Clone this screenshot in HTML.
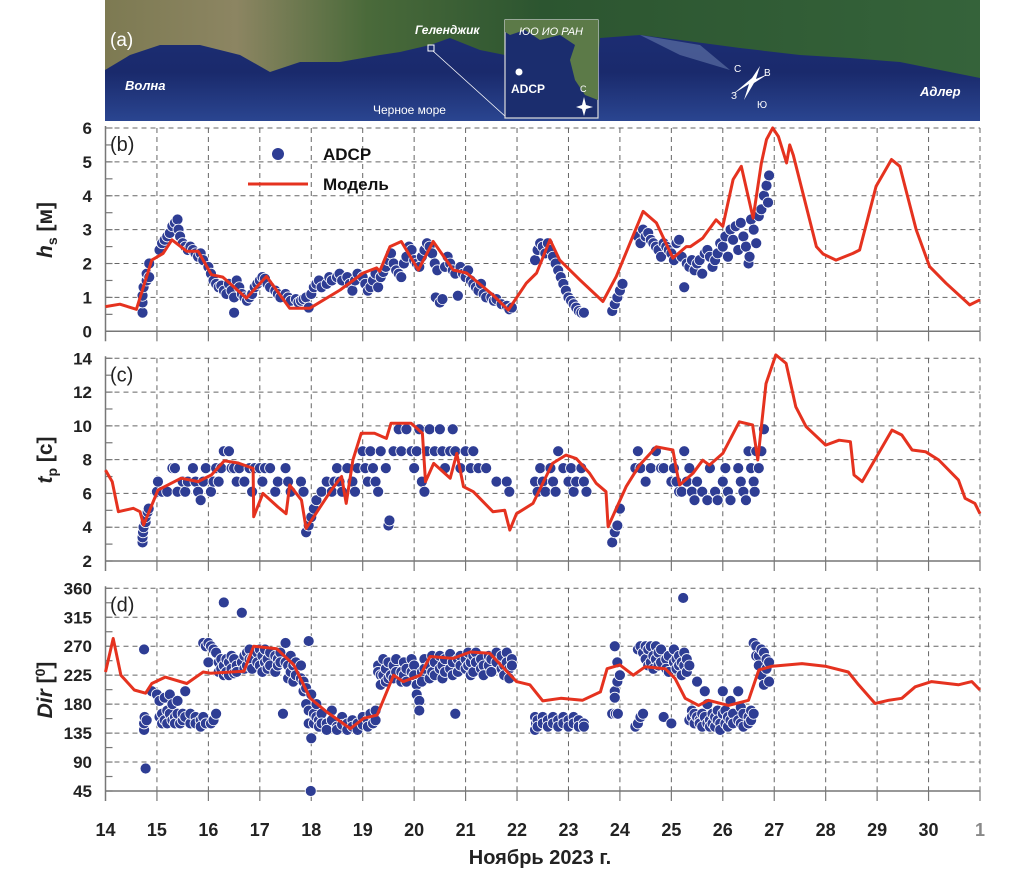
<!DOCTYPE html>
<html><head><meta charset="utf-8">
<style>
html,body{margin:0;padding:0;background:#fff;}
body{width:1010px;height:887px;overflow:hidden;font-family:"Liberation Sans",sans-serif;}
svg text{font-family:"Liberation Sans","DejaVu Sans",sans-serif;}
</style></head>
<body>
<svg id="chart" width="1010" height="887" viewBox="0 0 1010 887" xmlns="http://www.w3.org/2000/svg">
<defs>
<linearGradient id="sea" x1="0" y1="0" x2="0" y2="1">
<stop offset="0" stop-color="#1e2f78"/><stop offset="0.6" stop-color="#1a2a6c"/><stop offset="1" stop-color="#2a4590"/>
</linearGradient>
<linearGradient id="land" x1="0" y1="0" x2="1" y2="0">
<stop offset="0" stop-color="#7d7a52"/><stop offset="0.15" stop-color="#8c8562"/><stop offset="0.3" stop-color="#4a6a3a"/><stop offset="0.5" stop-color="#2c5530"/><stop offset="1" stop-color="#35633a"/>
</linearGradient>
</defs>
<g id="map">
<rect x="105" y="0" width="875" height="121" fill="url(#sea)"/>
<path fill="url(#land)" d="M105,0 L980,0 L980,78 L950,72 L900,62 L850,58 L800,55 L740,48 L680,40 L640,35 L600,38 L598,60 L560,55 L520,52 L505,55 L480,50 L450,38 L430,45 L400,52 L380,55 L340,62 L300,62 L270,72 L240,55 L200,45 L160,45 L130,55 L105,70 Z"/>
<path d="M640,35 L700,45 L730,70 L680,55 Z" fill="#8aa0c8" opacity="0.4"/>
<rect x="428" y="45" width="6" height="6" fill="none" stroke="#fff" stroke-width="1"/>
<line x1="433" y1="51" x2="506" y2="117" stroke="#fff" stroke-width="0.8"/>
<g>
<rect x="505" y="20" width="93" height="98" fill="#1b2d6e" stroke="#ddd" stroke-width="1.2"/>
<path d="M505,20 L598,20 L598,100 L585,95 L575,80 L570,60 L575,45 L560,35 L540,40 L525,30 L510,35 L505,32 Z" fill="#5c7a48"/>
<text x="551" y="35" fill="#fff" font-size="11" text-anchor="middle" font-style="italic">ЮО ИО РАН</text>
<circle cx="519" cy="72" r="3.5" fill="#fff"/>
<text x="511" y="93" fill="#fff" font-size="12" font-weight="bold">ADCP</text>
<text x="580" y="92" fill="#fff" font-size="9">С</text>
<path d="M584,97 L586,105 L593,107 L586,109 L584,116 L582,109 L576,107 L582,105 Z" fill="#fff"/>
</g>
<text x="110" y="46" fill="#fff" font-size="19" font-family="Liberation Serif,serif">(a)</text>
<text x="415" y="34" fill="#fff" font-size="12" font-style="italic" font-weight="bold">Геленджик</text>
<text x="125" y="90" fill="#fff" font-size="13" font-style="italic" font-weight="bold">Волна</text>
<text x="373" y="114" fill="#fff" font-size="12">Черное море</text>
<text x="920" y="96" fill="#fff" font-size="13" font-style="italic" font-weight="bold">Адлер</text>
<g fill="#fff">
<path d="M760,66 L752,78 L733,94 L749,84 L744,100 L754,83 L768,74 L756,79 Z"/>
<text x="734" y="72" font-size="10">С</text>
<text x="764" y="76" font-size="10">В</text>
<text x="731" y="99" font-size="10">З</text>
<text x="757" y="108" font-size="10">Ю</text>
</g>
</g>
<g id="plots"></g>
</svg>
<script>
// ---------- DATA ----------
const dayTicks = [14,15,16,17,18,19,20,21,22,23,24,25,26,27,28,29,30,31];
const dayTickLabels = ["14","15","16","17","18","19","20","21","22","23","24","25","26","27","28","29","30","1"];
const hsTicks = [0,1,2,3,4,5,6];
const tpTicks = [2,4,6,8,10,12,14];
const dirTicks = [45,90,135,180,225,270,315,360];

const modelHs = [[14.0,0.73],[14.28,0.8],[14.6,0.65],[14.9,2.1],[15.12,2.3],[15.29,2.7],[15.58,2.36],[15.8,2.36],[16.06,1.67],[16.28,1.6],[16.74,0.98],[17.13,1.62],[17.58,0.68],[17.97,0.68],[18.56,1.22],[19.01,1.72],[19.27,1.87],[19.33,1.77],[19.53,2.5],[19.75,2.65],[20.08,1.81],[20.37,2.65],[20.76,1.81],[21.02,1.72],[21.53,1.07],[21.83,0.63],[22.18,1.42],[22.38,1.72],[22.64,2.7],[22.83,2.1],[23.22,1.52],[23.67,0.88],[23.93,1.62],[24.45,3.54],[24.71,3.2],[25.03,2.16],[25.29,2.5],[25.37,2.5],[25.61,2.75],[25.87,3.29],[26.0,3.1],[26.2,4.48],[26.36,4.87],[26.59,3.34],[26.75,4.97],[26.85,5.66],[26.97,6.0],[27.08,5.75],[27.24,4.97],[27.3,5.5],[27.37,5.2],[27.82,2.5],[27.95,2.28],[28.2,2.1],[28.53,2.3],[28.66,2.4],[28.98,4.28],[29.28,5.07],[29.44,4.87],[29.76,3.0],[30.02,1.91],[30.34,1.42],[30.8,0.78],[31.0,0.93]];

const modelTp = [[14.0,7.38],[14.13,6.7],[14.19,5.8],[14.25,4.92],[14.54,5.12],[14.67,4.92],[14.74,4.13],[15.02,6.2],[15.47,6.9],[15.8,6.7],[16.06,7.1],[16.31,7.93],[16.58,7.8],[16.87,7.48],[16.88,4.62],[17.06,6.0],[17.35,5.2],[17.51,4.8],[17.58,6.5],[17.81,5.6],[17.9,3.93],[18.39,6.2],[18.59,7.0],[18.68,5.41],[18.81,7.98],[18.97,9.56],[19.23,9.56],[19.46,9.26],[19.55,10.15],[19.94,10.15],[20.16,9.56],[20.22,6.7],[20.38,7.78],[20.7,6.9],[20.83,8.37],[20.96,6.4],[21.15,6.1],[21.53,4.92],[21.76,5.0],[21.86,3.83],[21.99,4.8],[22.31,5.41],[22.69,7.78],[22.95,8.27],[23.15,8.07],[23.41,7.19],[23.54,6.6],[23.73,6.1],[23.77,4.03],[24.12,6.4],[24.38,7.68],[24.71,8.76],[25.03,8.57],[25.1,7.38],[25.16,6.5],[25.42,7.19],[25.61,7.97],[25.74,7.68],[26.0,8.37],[26.32,10.24],[26.58,10.05],[26.68,7.98],[26.84,12.5],[27.03,14.2],[27.23,13.7],[27.42,11.13],[27.62,9.95],[28.0,8.86],[28.26,9.15],[28.48,9.06],[28.55,7.09],[28.71,6.7],[29.29,9.75],[29.48,9.46],[29.68,8.57],[29.94,8.47],[30.2,7.98],[30.58,6.8],[30.71,5.71],[30.9,5.41],[31.0,4.8]];

const modelDir = [[14.0,230],[14.15,282],[14.3,225],[14.56,202],[14.78,197],[14.9,212],[15.16,222],[15.58,212],[15.9,230],[16.04,228],[16.69,231],[16.88,270],[17.33,266],[17.66,241],[17.98,189],[18.3,168],[18.76,142],[19.02,158],[19.28,163],[19.6,225],[19.79,215],[20.12,225],[20.31,254],[20.76,251],[21.09,261],[21.47,259],[21.99,215],[22.25,210],[22.5,185],[22.85,189],[23.27,186],[23.62,199],[23.75,235],[24.0,241],[24.26,225],[24.49,238],[24.88,235],[25.07,220],[25.27,189],[25.53,178],[25.72,186],[26.11,178],[26.5,186],[26.7,233],[26.96,239],[27.54,243],[27.99,239],[28.44,230],[28.64,210],[28.96,181],[29.22,186],[29.48,189],[29.74,207],[30.06,215],[30.58,210],[30.84,215],[31.0,202]];

const adcpHs = [[14.72,0.55],[14.72,0.85],[14.72,1.05],[14.74,1.3],[14.8,1.5],[14.8,1.7],[14.85,1.6],[14.85,2.0],[15.05,2.4],[15.1,2.6],[15.15,2.7],[15.2,2.8],[15.25,2.9],[15.3,3.1],[15.35,3.2],[15.4,3.3],[15.42,3.0],[15.45,2.8],[15.5,2.6],[15.55,2.5],[15.6,2.4],[15.65,2.5],[15.7,2.4],[15.75,2.3],[15.8,2.2],[15.85,2.3],[15.9,2.1],[16.0,1.9],[16.05,1.7],[16.1,1.5],[16.15,1.4],[16.2,1.3],[16.25,1.35],[16.3,1.2],[16.35,1.1],[16.4,1.4],[16.45,1.2],[16.5,1.0],[16.5,0.55],[16.55,1.5],[16.6,1.3],[16.65,1.1],[16.7,1.0],[16.75,0.9],[16.8,1.0],[16.85,1.1],[16.9,1.3],[16.95,1.4],[17.0,1.5],[17.05,1.6],[17.1,1.55],[17.15,1.4],[17.2,1.3],[17.3,1.2],[17.35,1.1],[17.4,1.0],[17.5,1.1],[17.55,1.0],[17.6,0.9],[17.7,0.95],[17.75,0.85],[17.8,0.9],[17.85,0.95],[17.9,1.0],[17.95,0.7],[18.0,1.1],[18.05,1.3],[18.1,1.4],[18.15,1.5],[18.2,1.3],[18.3,1.4],[18.35,1.6],[18.4,1.5],[18.5,1.6],[18.55,1.7],[18.6,1.5],[18.7,1.6],[18.75,1.4],[18.8,1.2],[18.85,1.5],[18.9,1.7],[19.0,1.6],[19.05,1.4],[19.1,1.2],[19.15,1.3],[19.2,1.5],[19.25,1.7],[19.3,1.3],[19.35,1.6],[19.4,1.75],[19.45,1.9],[19.5,2.1],[19.55,2.3],[19.6,2.0],[19.65,1.8],[19.7,1.7],[19.75,1.6],[19.8,2.0],[19.85,2.2],[19.9,2.5],[19.95,2.4],[20.0,2.1],[20.05,2.0],[20.1,1.9],[20.15,2.2],[20.2,2.4],[20.25,2.6],[20.3,2.5],[20.35,2.3],[20.4,2.0],[20.45,1.8],[20.42,1.0],[20.5,0.85],[20.55,0.95],[20.6,1.9],[20.65,2.2],[20.7,2.0],[20.75,1.8],[20.8,1.7],[20.85,1.05],[20.9,1.9],[20.95,1.7],[21.0,1.6],[21.05,1.8],[21.1,1.5],[21.15,1.4],[21.2,1.3],[21.25,1.2],[21.3,1.4],[21.35,1.1],[21.4,1.0],[21.5,1.0],[21.55,0.9],[21.6,0.95],[21.7,0.8],[21.8,0.75],[21.85,0.65],[21.9,0.7],[22.35,2.1],[22.4,2.4],[22.45,2.6],[22.5,2.5],[22.55,2.3],[22.6,2.6],[22.65,2.4],[22.7,2.2],[22.75,2.0],[22.8,1.8],[22.85,1.6],[22.9,1.4],[22.95,1.2],[23.0,1.0],[23.05,0.9],[23.1,0.8],[23.15,0.7],[23.2,0.6],[23.25,0.55],[23.3,0.55],[23.85,0.6],[23.9,0.8],[23.95,1.0],[24.0,1.2],[24.05,1.4],[24.35,2.8],[24.4,2.6],[24.45,3.0],[24.5,2.8],[24.55,2.9],[24.6,2.7],[24.65,2.6],[24.7,2.5],[24.75,2.4],[24.8,2.2],[24.85,2.6],[24.9,2.5],[24.95,2.4],[25.0,2.3],[25.05,2.1],[25.1,2.6],[25.15,2.7],[25.2,2.2],[25.25,1.3],[25.3,2.0],[25.35,1.9],[25.4,2.1],[25.45,1.8],[25.5,2.0],[25.55,2.1],[25.6,1.7],[25.65,2.3],[25.7,2.4],[25.75,2.2],[25.8,1.9],[25.85,2.1],[25.9,2.3],[25.95,2.6],[26.0,2.5],[26.05,2.8],[26.1,2.2],[26.15,3.0],[26.2,2.7],[26.25,3.1],[26.3,2.4],[26.35,3.2],[26.4,2.8],[26.45,2.5],[26.5,2.0],[26.52,2.2],[26.55,3.3],[26.6,3.0],[26.65,2.6],[26.7,3.4],[26.75,3.6],[26.8,4.0],[26.85,4.3],[26.9,4.6],[26.88,3.8]];

const adcpTp = [[14.72,3.1],[14.72,3.4],[14.73,3.7],[14.74,4.0],[14.78,4.3],[14.78,4.6],[14.82,4.9],[14.84,5.1],[15.0,6.1],[15.02,6.7],[15.1,6.1],[15.2,6.1],[15.3,7.5],[15.35,7.5],[15.4,6.1],[15.5,6.7],[15.55,6.1],[15.6,6.7],[15.7,7.5],[15.75,6.7],[15.8,6.1],[15.85,5.6],[15.9,6.7],[15.95,7.5],[16.05,6.1],[16.1,6.7],[16.15,7.5],[16.2,6.7],[16.25,7.5],[16.3,8.5],[16.4,8.5],[16.45,7.5],[16.5,7.5],[16.55,6.7],[16.6,7.5],[16.7,6.7],[16.8,7.5],[16.85,6.1],[16.9,7.5],[17.0,7.5],[17.05,6.7],[17.1,7.5],[17.2,7.5],[17.3,6.1],[17.35,6.7],[17.5,7.5],[17.55,6.7],[17.6,6.1],[17.8,6.7],[17.85,6.1],[17.9,3.7],[17.95,4.1],[18.0,4.6],[18.05,5.1],[18.1,5.6],[18.2,6.1],[18.3,6.7],[18.4,6.1],[18.45,6.7],[18.5,7.5],[18.55,6.7],[18.6,6.1],[18.7,7.5],[18.8,6.7],[18.85,6.1],[18.9,7.5],[19.0,8.5],[19.05,7.5],[19.1,6.7],[19.15,8.5],[19.2,7.5],[19.25,6.7],[19.3,6.1],[19.35,8.5],[19.45,7.5],[19.5,4.1],[19.52,4.4],[19.6,8.5],[19.7,9.8],[19.75,8.5],[19.85,9.8],[19.95,8.5],[20.0,7.5],[20.05,8.5],[20.1,9.8],[20.15,6.7],[20.2,6.1],[20.25,8.5],[20.3,9.8],[20.4,8.5],[20.5,9.8],[20.55,8.5],[20.6,7.5],[20.7,8.5],[20.75,9.8],[20.8,8.5],[20.9,7.5],[21.0,8.5],[21.1,7.5],[21.15,8.5],[21.25,7.5],[21.4,7.5],[21.6,6.7],[21.8,6.7],[21.85,6.1],[22.35,6.7],[22.4,6.1],[22.45,7.5],[22.5,6.7],[22.55,6.1],[22.65,7.5],[22.7,6.7],[22.75,6.1],[22.8,8.5],[22.9,7.5],[23.0,6.7],[23.05,7.5],[23.1,6.1],[23.15,6.7],[23.25,7.5],[23.3,6.7],[23.35,6.1],[23.85,3.1],[23.9,3.7],[23.95,4.1],[24.0,5.1],[24.3,7.5],[24.35,8.5],[24.4,7.5],[24.5,6.7],[24.6,7.5],[24.7,8.5],[24.8,7.5],[24.85,7.5],[25.0,6.7],[25.05,7.5],[25.1,6.7],[25.15,6.1],[25.2,6.1],[25.25,8.5],[25.3,6.7],[25.35,7.5],[25.4,6.1],[25.45,5.6],[25.5,6.7],[25.6,6.1],[25.7,5.6],[25.75,7.5],[25.85,6.1],[25.9,5.6],[26.0,6.7],[26.05,7.5],[26.1,6.1],[26.15,5.6],[26.3,7.5],[26.35,6.7],[26.4,6.1],[26.45,5.6],[26.5,8.5],[26.55,7.5],[26.6,6.7],[26.62,6.1],[26.65,8.5],[26.7,7.5],[26.75,8.5],[26.8,9.8]];

const adcpDir = [[14.75,140],[14.75,150],[14.76,160],[14.75,265],[14.78,80],[14.8,155],[14.9,200],[15.0,195],[15.05,185],[15.05,160],[15.1,165],[15.1,150],[15.15,190],[15.15,155],[15.2,170],[15.2,150],[15.25,195],[15.25,165],[15.3,180],[15.3,155],[15.35,160],[15.35,150],[15.4,185],[15.4,165],[15.45,150],[15.5,155],[15.5,165],[15.55,200],[15.55,160],[15.65,150],[15.65,165],[15.75,160],[15.75,150],[15.85,155],[15.85,145],[15.9,275],[15.9,160],[15.95,270],[15.95,150],[16.0,275],[16.0,245],[16.05,270],[16.05,150],[16.1,265],[16.1,155],[16.15,260],[16.15,165],[16.2,245],[16.2,230],[16.25,250],[16.25,235],[16.3,338],[16.3,240],[16.3,225],[16.35,230],[16.35,250],[16.4,245],[16.4,225],[16.45,255],[16.45,235],[16.5,250],[16.5,228],[16.55,240],[16.55,230],[16.65,322],[16.65,245],[16.7,235],[16.7,255],[16.75,260],[16.75,240],[16.8,265],[16.8,250],[16.85,250],[16.85,235],[16.95,260],[16.95,245],[17.0,265],[17.0,240],[17.05,255],[17.05,230],[17.1,265],[17.1,245],[17.15,250],[17.15,235],[17.2,260],[17.2,240],[17.3,255],[17.3,230],[17.35,250],[17.35,240],[17.4,260],[17.4,245],[17.45,165],[17.5,275],[17.5,245],[17.55,240],[17.55,220],[17.6,255],[17.6,230],[17.65,240],[17.65,215],[17.7,245],[17.7,225],[17.8,240],[17.8,220],[17.85,215],[17.85,200],[17.9,205],[17.9,180],[17.95,278],[17.95,170],[17.95,150],[18.0,195],[18.0,127],[17.99,45],[18.05,165],[18.05,150],[18.1,180],[18.1,160],[18.15,155],[18.15,145],[18.2,165],[18.2,150],[18.3,150],[18.3,140],[18.4,170],[18.4,155],[18.5,145],[18.5,140],[18.6,160],[18.6,148],[18.7,150],[18.7,140],[18.8,155],[18.8,145],[18.9,150],[18.9,140],[19.0,160],[19.0,148],[19.1,155],[19.1,145],[19.15,165],[19.2,150],[19.25,170],[19.25,155],[19.3,240],[19.3,230],[19.35,225],[19.35,210],[19.4,250],[19.4,225],[19.45,235],[19.45,215],[19.5,245],[19.5,220],[19.55,225],[19.6,240],[19.6,220],[19.65,250],[19.65,230],[19.75,230],[19.75,215],[19.8,245],[19.8,225],[19.85,235],[19.85,215],[19.95,250],[19.95,230],[20.0,240],[20.0,225],[20.05,210],[20.05,195],[20.1,185],[20.1,170],[20.15,230],[20.15,215],[20.2,250],[20.2,235],[20.3,240],[20.3,220],[20.35,255],[20.35,230],[20.4,245],[20.4,225],[20.5,255],[20.5,235],[20.55,240],[20.55,220],[20.6,250],[20.6,230],[20.7,258],[20.7,235],[20.75,245],[20.75,225],[20.8,165],[20.85,250],[20.85,230],[20.9,255],[20.9,240],[21.0,250],[21.0,235],[21.05,260],[21.05,240],[21.1,245],[21.1,225],[21.15,255],[21.15,230],[21.2,260],[21.2,245],[21.3,250],[21.3,235],[21.35,240],[21.35,225],[21.45,255],[21.45,240],[21.5,250],[21.5,230],[21.6,260],[21.6,245],[21.7,255],[21.7,235],[21.75,240],[21.75,225],[21.8,260],[21.8,245],[21.85,235],[21.85,220],[21.9,250],[21.9,240],[22.35,160],[22.35,140],[22.37,150],[22.4,155],[22.4,145],[22.5,160],[22.5,150],[22.6,155],[22.6,145],[22.7,160],[22.7,150],[22.8,155],[22.8,145],[22.9,160],[22.9,150],[23.0,155],[23.0,145],[23.1,160],[23.1,150],[23.2,155],[23.2,145],[23.3,150],[23.3,145],[23.85,165],[23.9,270],[23.9,200],[23.9,190],[23.92,165],[23.95,245],[23.95,215],[23.96,165],[24.0,225],[24.3,145],[24.35,150],[24.35,265],[24.4,160],[24.4,270],[24.45,165],[24.45,260],[24.5,270],[24.5,250],[24.55,265],[24.55,240],[24.6,270],[24.6,245],[24.65,255],[24.65,235],[24.7,270],[24.7,250],[24.75,260],[24.75,240],[24.8,265],[24.8,245],[24.85,160],[24.9,250],[24.9,235],[24.95,255],[24.95,230],[25.0,150],[25.05,265],[25.05,245],[25.1,250],[25.1,235],[25.15,255],[25.15,240],[25.2,245],[25.2,225],[25.23,345],[25.25,260],[25.25,240],[25.3,250],[25.3,230],[25.35,155],[25.35,240],[25.4,170],[25.4,160],[25.45,150],[25.45,165],[25.5,160],[25.5,215],[25.55,155],[25.55,150],[25.6,165],[25.6,145],[25.65,200],[25.65,160],[25.7,180],[25.7,150],[25.75,155],[25.75,145],[25.8,165],[25.8,150],[25.85,160],[25.85,145],[25.9,170],[25.9,155],[25.95,150],[25.95,140],[26.0,200],[26.0,165],[26.05,170],[26.05,150],[26.1,160],[26.1,145],[26.15,185],[26.15,155],[26.2,165],[26.2,150],[26.3,200],[26.3,155],[26.35,175],[26.35,150],[26.4,165],[26.4,145],[26.5,160],[26.5,150],[26.55,170],[26.55,155],[26.6,275],[26.6,165],[26.65,270],[26.65,255],[26.7,255],[26.7,240],[26.75,265],[26.75,225],[26.8,260],[26.8,210],[26.85,250],[26.85,235],[26.9,245],[26.9,215]];

// ---------- LAYOUT ----------
const NS = "http://www.w3.org/2000/svg";
const X0 = 105.5, X1 = 980;
const xScale = d => X0 + (d - 14) / 17 * (X1 - X0);
const panels = [
  {key:'hs', top:128, bottom:331.3, min:0, max:6, ticks:hsTicks, minor:0.5, model:modelHs, adcp:adcpHs, label:'(b)'},
  {key:'tp', top:358.3, bottom:561, min:2, max:14, ticks:tpTicks, minor:1, model:modelTp, adcp:adcpTp, label:'(c)'},
  {key:'dir', top:588.3, bottom:791, min:45, max:360, ticks:dirTicks, minor:22.5, model:modelDir, adcp:adcpDir, label:'(d)'}
];
const root = document.getElementById('plots');
function mk(tag, attrs, parent){
  const e = document.createElementNS(NS, tag);
  for (const k in attrs) e.setAttribute(k, attrs[k]);
  (parent || root).appendChild(e);
  return e;
}

panels.forEach(p => {
  const yScale = v => p.bottom - (v - p.min) / (p.max - p.min) * (p.bottom - p.top);
  const g = mk('g', {});
  
  
  p.ticks.forEach(t => {
    if (t === p.min) return;
    const l = mk('line', {x1:X0, x2:X1, y1:yScale(t), y2:yScale(t), stroke:'#666', 'stroke-width':1, 'stroke-dasharray':'5,4'}, g);
    
    
  });
  dayTicks.forEach(d => {
    if (d === 14) return;
    const l = mk('line', {x1:xScale(d), x2:xScale(d), y1:p.top, y2:p.bottom, stroke:'#666', 'stroke-width':1, 'stroke-dasharray':'5,4'}, g);
    
    
    const tk = mk('line', {x1:xScale(d), x2:xScale(d), y1:p.bottom, y2:p.bottom + 10, stroke:'#777', 'stroke-width':1.2}, g);
    
    
  });
  const ax = mk('path', {d:`M${X0},${p.top-2} L${X0},${p.bottom+10} M${X0},${p.bottom} L${X1},${p.bottom}`, stroke:'#777', 'stroke-width':1.5, fill:'none'}, g);
  
  
  for (let v = p.min; v <= p.max + 1e-6; v += p.minor) {
    const mt = mk('line', {x1:X0, x2:X0 + 7, y1:yScale(v), y2:yScale(v), stroke:'#777', 'stroke-width':1.2}, g);
    
    
  }
  p.ticks.forEach(t => {
    const tx = mk('text', {x:92, y:yScale(t) + 6, 'text-anchor':'end', 'font-size':17, 'font-weight':'bold', fill:'#222'}, g);
    tx.textContent = t;
    
    
  });
  const pl = mk('text', {x:110, y:p.top + 23, 'font-size':20, fill:'#222', 'font-family':'Liberation Serif,serif'}, g);
  pl.textContent = p.label;
  
  
  p.adcp.forEach(pt => {
    const c = mk('circle', {cx:xScale(pt[0]), cy:yScale(pt[1]), r:5.5, fill:'#2e3d94', stroke:'#fff', 'stroke-width':0.8}, g);
    
    
  });
  const d = p.model.map((pt, i) => (i ? 'L' : 'M') + xScale(pt[0]).toFixed(1) + ',' + yScale(pt[1]).toFixed(1)).join(' ');
  const ml = mk('path', {d:d, stroke:'#e5321f', 'stroke-width':3, fill:'none', 'stroke-linejoin':'round'}, g);
  
  
});

dayTicks.forEach((d, i) => {
  const t = mk('text', {x:xScale(d), y:836, 'text-anchor':'middle', 'font-size':18, 'font-weight':'bold', fill: i === dayTicks.length - 1 ? '#888' : '#222'});
  t.textContent = dayTickLabels[i];
  
  
});
const xt = mk('text', {x:540, y:864, 'text-anchor':'middle', 'font-size':20, 'font-weight':'bold', fill:'#222'});
xt.textContent = 'Ноябрь 2023 г.';



function ytitle(cy, name, html){
  const t = mk('text', {transform:`translate(52,${cy}) rotate(-90)`, 'text-anchor':'middle', 'font-size':21, 'font-weight':'bold', fill:'#222'});
  t.innerHTML = html;
  
  
}
ytitle(230, 'hs-axis-title', '<tspan font-style="italic">h</tspan><tspan font-size="14" dy="5">s</tspan><tspan dy="-5"> [м]</tspan>');
ytitle(460, 'tp-axis-title', '<tspan font-style="italic">t</tspan><tspan font-size="14" dy="5">p</tspan><tspan dy="-5"> [с]</tspan>');
ytitle(690, 'dir-axis-title', '<tspan font-style="italic">Dir</tspan><tspan> [</tspan><tspan font-size="14" dy="-7">0</tspan><tspan dy="7">]</tspan>');

const lg = mk('g', {});


const lc = mk('circle', {cx:278, cy:154, r:6, fill:'#2e3d94'}, lg);


const lt1 = mk('text', {x:323, y:160, 'font-size':17, 'font-weight':'bold', fill:'#111'}, lg);
lt1.textContent = 'ADCP';


const ll = mk('line', {x1:248, x2:308, y1:184, y2:184, stroke:'#e5321f', 'stroke-width':3}, lg);


const lt2 = mk('text', {x:323, y:190, 'font-size':17, 'font-weight':'bold', fill:'#111'}, lg);
lt2.textContent = 'Модель';


</script>
</body></html>
